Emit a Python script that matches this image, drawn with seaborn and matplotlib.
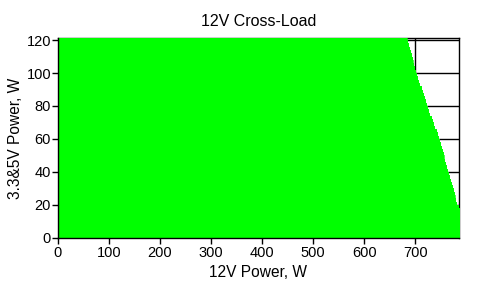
import matplotlib
matplotlib.use("Agg")
import matplotlib.pyplot as plt
import seaborn as sns
import numpy as np
import pandas as pd

# 3.3&5V load levels (W) and the maximum 12V load (W) reached at each level
minor_load = [0, 2, 4, 6, 8, 10, 12, 14, 16, 18,
              20, 22, 24, 26, 28, 30, 32, 34, 36, 38,
              40, 42, 44, 46, 48, 50, 52, 54, 56, 58,
              60, 62, 64, 66, 68, 70, 72, 74, 76, 78,
              80, 82, 84, 86, 88, 90, 92, 94, 96, 98,
              100, 102, 104, 106, 108, 110, 112, 114, 116, 118,
              120, 122]
max_12v = [790, 790, 790, 790, 790, 790, 790, 790, 790, 786,
           783, 781, 779, 778, 776, 774, 772, 771, 769, 767,
           765, 763, 761, 759, 757, 756, 754, 752, 750, 748,
           746, 744, 742, 739, 737, 735, 733, 730, 728, 725,
           723, 721, 719, 717, 715, 713, 710, 708, 706, 704,
           702, 700, 698, 696, 695, 693, 691, 690, 688, 686,
           685, 684]

xticks = [0, 100, 200, 300, 400, 500, 600, 700]
yticks = [0, 20, 40, 60, 80, 100, 120]

df = pd.DataFrame({"minor": minor_load, "max12": max_12v})

sns.set_theme(style="ticks")
plt.rcParams["font.family"] = ["Liberation Sans", "DejaVu Sans"]

fig = plt.figure(figsize=(4.87, 2.86), dpi=100)
ax = fig.add_axes([0.119, 0.168, 0.8235, 0.699])

# grid below the green region
for yv in yticks:
    ax.axhline(yv, color="black", lw=1.0, zorder=1)
for xv in xticks:
    ax.axvline(xv, color="black", lw=1.0, zorder=1)

ax.fill_betweenx(df["minor"], 0, df["max12"], step="post",
                 color="#00ff00", lw=0, zorder=2)
sns.lineplot(data=df, x="max12", y="minor", drawstyle="steps-post",
             estimator=None, sort=False, orient="y", color="#00ff00",
             lw=0.5, ax=ax, zorder=2)

ax.set_xlim(0, 786)
ax.set_ylim(0, 121.2)
ax.set_xticks(xticks)
ax.set_yticks(yticks)
ax.tick_params(axis="both", labelsize=10.5, length=4, width=1,
               colors="black", direction="out", pad=1)
ax.tick_params(axis="x", pad=2)
ax.set_xlabel("12V Power, W", fontsize=11.2, labelpad=3.5, color="black")
ax.set_ylabel("3.3&5V Power, W", fontsize=11.2, labelpad=2.5, color="black")
ax.set_title("12V Cross-Load", fontsize=11.5, pad=9, color="black")

for side in ["top", "right"]:
    ax.spines[side].set_visible(True)
    ax.spines[side].set_color("black")
    ax.spines[side].set_linewidth(1.0)
    ax.spines[side].set_zorder(1)
for side in ["left", "bottom"]:
    ax.spines[side].set_color("black")
    ax.spines[side].set_linewidth(1.0)
    ax.spines[side].set_zorder(3)

fig.savefig("out.png", dpi=100)
